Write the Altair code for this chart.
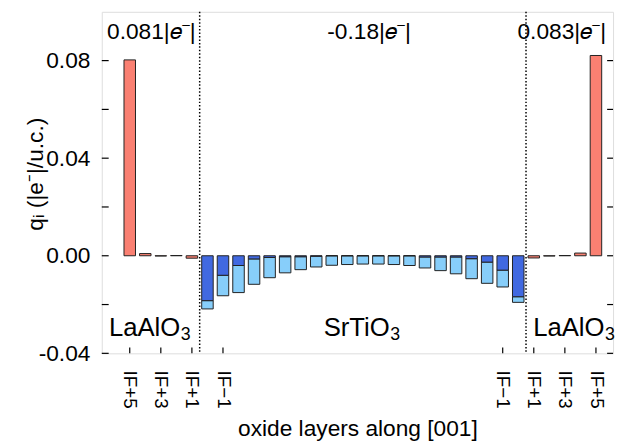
import altair as alt
import pandas as pd

FONT = "Liberation Sans"

# ---- data ----
# layer index along [001]: 0..4 left LaAlO3 (IF+5..IF+1), 5..25 SrTiO3, 26..30 right LaAlO3 (IF+1..IF+5)
lao_left_pos = [0, 1, 2, 3, 4]
lao_left_q = [0.0803, 0.0009, -0.0001, 0.0001, -0.0010]
lao_right_pos = [26, 27, 28, 29, 30]
lao_right_q = [-0.0009, -0.0001, 0.0001, 0.0011, 0.0821]

sto_pos = list(range(5, 26))
sto_dark = [-0.0184, -0.0080, -0.0040, -0.0013, -0.0007, -0.0004, -0.0004, -0.0002,
            0.0, 0.0, 0.0, 0.0, 0.0, 0.0,
            -0.0005, -0.0005, -0.0005, -0.0012, -0.0026, -0.0059, -0.0168]
sto_total = [-0.0218, -0.0164, -0.0151, -0.0117, -0.0090, -0.0070, -0.0057, -0.0046,
             -0.0039, -0.0036, -0.0034, -0.0034, -0.0036, -0.0040,
             -0.0050, -0.0061, -0.0074, -0.0094, -0.0113, -0.0128, -0.0191]

x_tick_pos = [0, 2, 4, 6, 24, 26, 28, 30]
x_tick_labels = ["IF+5", "IF+3", "IF+1", "IF\u22121", "IF\u22121", "IF+1", "IF+3", "IF+5"]
y_major = [-0.04, 0.0, 0.04, 0.08]
y_all_ticks = [-0.04, -0.02, 0.0, 0.02, 0.04, 0.06, 0.08]
dividers = [4.5, 25.5]

top_text = ["0.081|\U0001D452\u207B|", "-0.18|\U0001D452\u207B|", "0.083|\U0001D452\u207B|"]
top_text_x = [1.39, 15.4, 27.8]
top_text_y = [0.0889, 0.0889, 0.0889]
# material labels: main part ends at x, subscript starts there
mat_main = ["LaAlO", "SrTiO", "LaAlO"]
mat_sub = ["3", "3", "3"]
mat_x = [3.25, 16.73, 30.55]
mat_y = [-0.0327, -0.0327, -0.0327]

SALMON = "#fa8072"
DARK = "#4169e1"
LIGHT = "#87cefa"
HALF = 0.37

# ---- tables ----
rows = []
for p, q in zip(lao_left_pos + lao_right_pos, lao_left_q + lao_right_q):
    rows.append({"pos": p, "x0": p - HALF, "x1": p + HALF, "q": 0.0, "q1": q, "c": SALMON, "o": 0})
for p, d, t in zip(sto_pos, sto_dark, sto_total):
    rows.append({"pos": p, "x0": p - HALF, "x1": p + HALF, "q": d, "q1": t, "c": LIGHT, "o": 0})
    rows.append({"pos": p, "x0": p - HALF, "x1": p + HALF, "q": 0.0, "q1": d, "c": DARK, "o": 1})
bars = pd.DataFrame(rows)

x_scale = alt.Scale(domain=[-1.8, 31.1], nice=False, zero=False)
y_scale = alt.Scale(domain=[-0.04, 0.10], nice=False, zero=False)

label_expr = "[" + ",".join("'%s'" % s for s in x_tick_labels) + "][indexof([" + \
    ",".join(str(v) for v in x_tick_pos) + "], datum.value)]"

x_axis = alt.Axis(values=x_tick_pos, labelExpr=label_expr, labelAngle=90, ticks=False,
                  domain=False, grid=False, labelPadding=17, labelFontSize=19,
                  labelFont=FONT, labelColor="black",
                  title="oxide layers along [001]", titleFont=FONT, titleFontSize=23,
                  titleFontWeight="normal", titleColor="black", titleY=83,
                  titleBaseline="alphabetic")
y_axis = alt.Axis(values=y_major,
                  labelExpr="(datum.value < 0 ? '-' : '') + format(abs(datum.value), '.2f')",
                  ticks=False, domain=False, grid=False, labelPadding=12, labelFontSize=23,
                  labelFont=FONT, labelColor="black",
                  title="q\u1D62 (|e\u207B|/u.c.)", titleFont=FONT, titleFontSize=23,
                  titleFontWeight="normal", titleColor="black", titleX=-60, titleY=164,
                  titleBaseline="alphabetic")

X = alt.X("x0:Q", scale=x_scale, axis=x_axis)
Y = alt.Y("q:Q", scale=y_scale, axis=y_axis)

bar_layer = alt.Chart(bars).mark_bar(stroke="#222222", strokeWidth=1, opacity=1).encode(
    x=X, x2="x1:Q", y=Y, y2="q1:Q",
    color=alt.Color("c:N", scale=None), order=alt.Order("o:Q"))

div_df = pd.DataFrame({"x0": dividers})
div_layer = alt.Chart(div_df).mark_rule(color="black", strokeDash=[1.5, 2], strokeWidth=1.5).encode(
    x=alt.X("x0:Q", scale=x_scale, axis=x_axis))

xt_df = pd.DataFrame({"x0": x_tick_pos})
xt_layer = alt.Chart(xt_df).mark_rule(color="black", strokeWidth=1.2).encode(
    x=alt.X("x0:Q", scale=x_scale, axis=x_axis), y=alt.value(340), y2=alt.value(346))

yt_df = pd.DataFrame({"q": y_all_ticks})
yt_left = alt.Chart(yt_df).mark_rule(color="black", strokeWidth=1.2).encode(
    y=alt.Y("q:Q", scale=y_scale, axis=y_axis), x=alt.value(0), x2=alt.value(7))
yt_right = alt.Chart(yt_df).mark_rule(color="black", strokeWidth=1.2).encode(
    y=alt.Y("q:Q", scale=y_scale, axis=y_axis), x=alt.value(512), x2=alt.value(518))

top_df = pd.DataFrame({"t": top_text, "x0": top_text_x, "q": top_text_y})
top_layer = alt.Chart(top_df).mark_text(font=FONT, fontSize=23, align="center",
                                        baseline="alphabetic", color="black").encode(
    x=alt.X("x0:Q", scale=x_scale, axis=x_axis), y=alt.Y("q:Q", scale=y_scale, axis=y_axis), text="t:N")

mat_df = pd.DataFrame({"t": mat_main, "s": mat_sub, "x0": mat_x, "q": mat_y})
mat_layer = alt.Chart(mat_df).mark_text(font=FONT, fontSize=26, align="right",
                                        baseline="alphabetic", color="black").encode(
    x=alt.X("x0:Q", scale=x_scale, axis=x_axis), y=alt.Y("q:Q", scale=y_scale, axis=y_axis), text="t:N")
sub_layer = alt.Chart(mat_df).mark_text(font=FONT, fontSize=18, align="left", dx=0.5, dy=5,
                                        baseline="alphabetic", color="black").encode(
    x=alt.X("x0:Q", scale=x_scale, axis=x_axis), y=alt.Y("q:Q", scale=y_scale, axis=y_axis), text="s:N")

chart = alt.layer(bar_layer, div_layer, xt_layer, yt_left, yt_right, top_layer, mat_layer, sub_layer).properties(
    width=518, height=346,
    autosize=alt.AutoSizeParams(type="none"),
    padding={"left": 95, "top": 1, "right": 3, "bottom": 90},
).configure_view(stroke="black", strokeWidth=1.5).configure(background="white")

chart.save("out.html", embed_options={"renderer": "svg", "actions": False})
